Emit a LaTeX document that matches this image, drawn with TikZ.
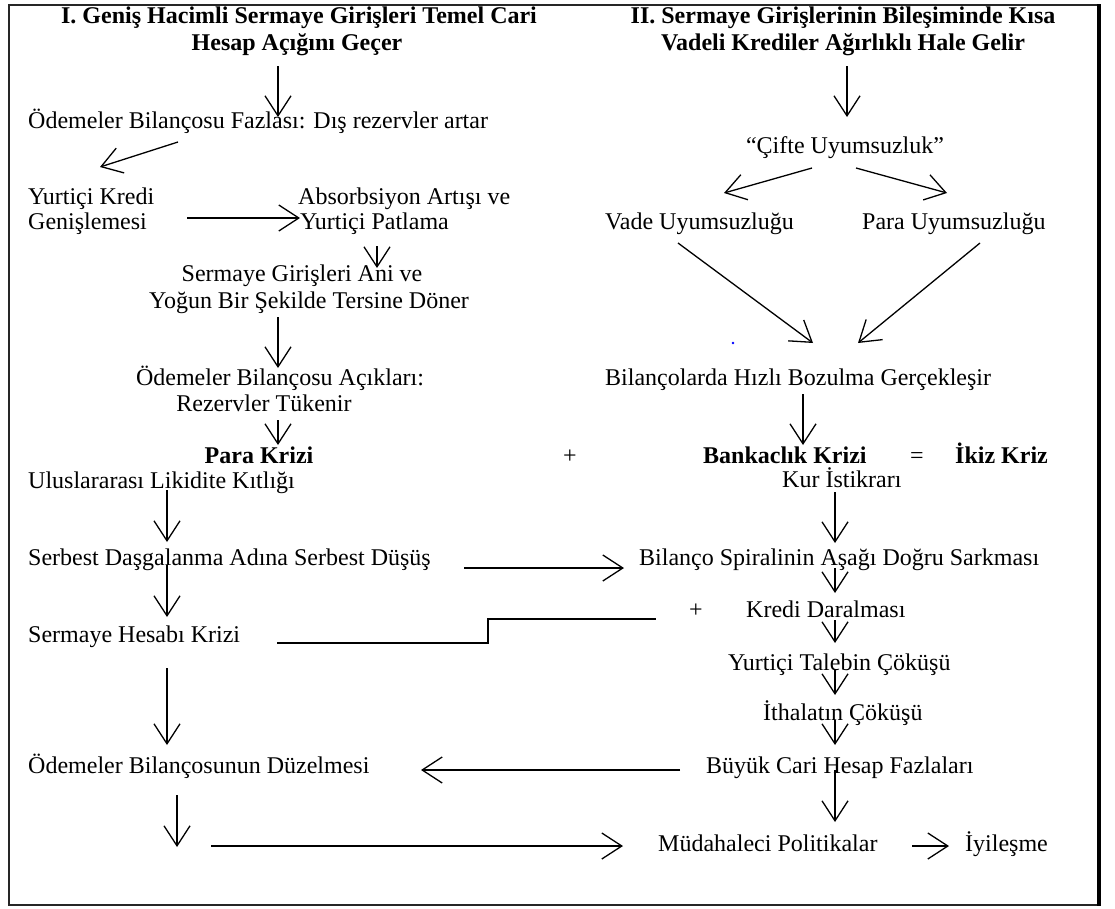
\documentclass[tikz,border=0pt]{standalone}
\usepackage{fontspec}
\setmainfont{Liberation Serif}
\usetikzlibrary{arrows.meta}
\begin{document}
\begin{tikzpicture}[x=1pt,y=-1pt,
  txt/.style={inner sep=0pt,text height=16pt,text depth=5pt,font=\fontsize{24}{25}\selectfont},
  btxt/.style={txt,font=\fontsize{24}{25}\selectfont\bfseries},
  lft/.style={txt,anchor=west},
  arr/.style={line width=1.3pt,-{Straight Barb[length=20pt,width=26pt,line width=1.3pt]}},
  plain/.style={line width=1.3pt}]
\useasboundingbox (0,0) rectangle (1115,908);
% frame
\draw[line width=1.6pt,black!85] (9,5) rectangle (1099,905);
\draw[line width=3.2pt] (1099,4) -- (1099,906);
% left column
\node[btxt] (t1a) at (299,18) {I. Geniş Hacimli Sermaye Girişleri Temel Cari};
\node[btxt] (t1b) at (297,45) {Hesap Açığını Geçer};
\node[lft] (l1) at (28,123) {Ödemeler Bilançosu Fazlası: Dış rezervler artar};
\node[lft] (l2a) at (28,199) {Yurtiçi Kredi};
\node[lft] (l2b) at (28,224) {Genişlemesi};
\node[lft] (l3a) at (298,199) {Absorbsiyon Artışı ve};
\node[lft] (l3b) at (300,224) {Yurtiçi Patlama};
\node[txt] (l4a) at (302,276) {Sermaye Girişleri Ani ve};
\node[txt] (l4b) at (309,303) {Yoğun Bir Şekilde Tersine Döner};
\node[txt] (l5a) at (280,380) {Ödemeler Bilançosu Açıkları:};
\node[txt] (l5b) at (264,406) {Rezervler Tükenir};
\node[btxt] (l6) at (259,458) {Para Krizi};
\node[txt] (plus1) at (570,458) {+};
\node[lft] (l7) at (28,483) {Uluslararası Likidite Kıtlığı};
\node[lft] (l8) at (28,560) {Serbest Daşgalanma Adına Serbest Düşüş};
\node[lft] (l9) at (28,637) {Sermaye Hesabı Krizi};
\node[lft] (l10) at (28,768) {Ödemeler Bilançosunun Düzelmesi};
% right column
\node[btxt] (t2a) at (843,18) {II. Sermaye Girişlerinin Bileşiminde Kısa};
\node[btxt] (t2b) at (843,45) {Vadeli Krediler Ağırlıklı Hale Gelir};
\node[txt] (r1) at (845,148) {“Çifte Uyumsuzluk”};
\node[lft] (r2) at (605,224) {Vade Uyumsuzluğu};
\node[lft] (r3) at (862,224) {Para Uyumsuzluğu};
\node[lft] (r4) at (605,380) {Bilançolarda Hızlı Bozulma Gerçekleşir};
\node[btxt,anchor=west] (r5) at (703,458) {Bankaclık Krizi};
\node[txt] (eq) at (917,458) {=};
\node[btxt,anchor=west] (r6) at (955,458) {İkiz Kriz};
\node[lft] (r7) at (782,482) {Kur İstikrarı};
\node[lft] (r8) at (639,560) {Bilanço Spiralinin Aşağı Doğru Sarkması};
\node[txt] (plus2) at (696,612) {+};
\node[lft] (r9) at (746,612) {Kredi Daralması};
\node[lft] (r10) at (728,665) {Yurtiçi Talebin Çöküşü};
\node[lft] (r11) at (763,715) {İthalatın Çöküşü};
\node[lft] (r12) at (706,768) {Büyük Cari Hesap Fazlaları};
\node[lft] (r13) at (658,846) {Müdahaleci Politikalar};
\node[lft] (r14) at (965,846) {İyileşme};
\fill[blue] (733,343) circle (1.3pt);
% arrow end coordinates
\coordinate (a1s) at (278,66);  \coordinate (a1e) at (278,117);
\coordinate (a2s) at (178,142); \coordinate (a2e) at (100,167);
\coordinate (a3s) at (187,218); \coordinate (a3e) at (300,218);
\coordinate (a4s) at (377,246); \coordinate (a4e) at (377,268);
\coordinate (a5s) at (278,317); \coordinate (a5e) at (278,368);
\coordinate (a6s) at (278,420); \coordinate (a6e) at (278,445);
\coordinate (a7s) at (167,490); \coordinate (a7e) at (167,542);
\coordinate (a8s) at (464,568); \coordinate (a8e) at (624,568);
\coordinate (a9s) at (167,565); \coordinate (a9e) at (167,617);
\coordinate (s1) at (277,643); \coordinate (s2) at (488,643);
\coordinate (s3) at (488,619); \coordinate (s4) at (656,619);
\coordinate (a10s) at (167,668); \coordinate (a10e) at (167,745);
\coordinate (a11s) at (680,770); \coordinate (a11e) at (421,770);
\coordinate (a12s) at (177,795); \coordinate (a12e) at (177,847);
\coordinate (a13s) at (211,846); \coordinate (a13e) at (623,846);
\coordinate (a14s) at (912,846); \coordinate (a14e) at (949,846);
\coordinate (b1s) at (847,66);  \coordinate (b1e) at (847,117);
\coordinate (b2s) at (812,168); \coordinate (b2e) at (724,193);
\coordinate (b3s) at (856,168); \coordinate (b3e) at (947,193);
\coordinate (b4s) at (678,243); \coordinate (b4e) at (813,343);
\coordinate (b5s) at (980,243); \coordinate (b5e) at (858,343);
\coordinate (b6s) at (803,394); \coordinate (b6e) at (803,445);
\coordinate (b7s) at (835,492); \coordinate (b7e) at (835,543);
\coordinate (b8s) at (835,568); \coordinate (b8e) at (835,593);
\coordinate (b9s) at (835,620); \coordinate (b9e) at (835,643);
\coordinate (b10s) at (835,670); \coordinate (b10e) at (835,695);
\coordinate (b11s) at (835,720); \coordinate (b11e) at (835,745);
\coordinate (b12s) at (835,770); \coordinate (b12e) at (835,822);
% arrows
\foreach \a in {a1,a2,a3,a4,a5,a6,a7,a8,a9,a10,a11,a12,a13,a14,b1,b2,b3,b4,b5,b6,b7,b8,b9,b10,b11,b12}
  \draw[arr] (\a s) -- (\a e);
\draw[plain] (s1) -- (s2) -- (s3) -- (s4);
\end{tikzpicture}
\end{document}
